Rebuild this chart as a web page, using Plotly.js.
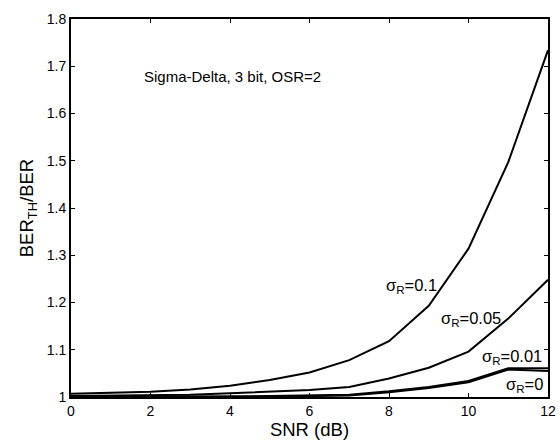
<!DOCTYPE html>
<html>
<head>
<meta charset="utf-8">
<script src="https://cdn.plot.ly/plotly-3.0.1.min.js"></script>
<style>html,body{margin:0;padding:0;background:#fff;}#chart{width:560px;height:440px;}</style>
</head>
<body>
<div id="chart"></div>
<script>
const snr = [0,1,2,3,4,5,6,7,8,9,10,11,12];
const sigma01  = [1.007,1.009,1.011,1.016,1.024,1.036,1.052,1.078,1.118,1.193,1.314,1.497,1.734];
const sigma005 = [1.002,1.003,1.004,1.005,1.008,1.011,1.015,1.021,1.039,1.062,1.096,1.166,1.248];
const sigma001 = [1.000,1.000,1.000,1.001,1.001,1.002,1.003,1.005,1.012,1.021,1.034,1.061,1.061];
const sigma0   = [1.000,1.000,1.000,1.000,1.001,1.001,1.002,1.003,1.010,1.019,1.031,1.058,1.055];
const labels = ['σ<sub>R</sub>=0.1','σ<sub>R</sub>=0.05','σ<sub>R</sub>=0.01','σ<sub>R</sub>=0'];
const labelPos = [[8.56,1.234],[10.06,1.166],[11.1,1.084],[11.4,1.026]];

const FONT = 'Liberation Sans, Arial, sans-serif';
const line = {color:'#000', width:2};
const traces = [sigma01, sigma005, sigma001, sigma0].map(v => ({
  x: snr, y: v, type:'scatter', mode:'lines', line: line, showlegend:false, hoverinfo:'skip'
}));

const annotations = labels.map((t,i) => ({
  x: labelPos[i][0], y: labelPos[i][1], xref:'x', yref:'y', text: t, showarrow:false,
  font:{family:FONT, size:16.5, color:'#000'}
}));
annotations.push({
  x: 1.78, y: 1.679, xref:'x', yref:'y', xanchor:'left', text:'Sigma-Delta, 3 bit, OSR=2', showarrow:false,
  font:{family:FONT, size:15, color:'#000'}
});

const axisCommon = {
  showgrid:false, zeroline:false, showline:true, linecolor:'#000', linewidth:2,
  mirror:'ticks', ticks:'inside', ticklen:4, tickcolor:'#000', tickwidth:1,
  tickfont:{family:FONT, size:14, color:'#000'}
};

const layout = {
  width:560, height:440,
  margin:{l:71, r:12, t:19, b:43},
  paper_bgcolor:'#fff', plot_bgcolor:'#fff',
  font:{family:FONT, color:'#000'},
  xaxis: Object.assign({}, axisCommon, {
    range:[0,12], tickmode:'array', tickvals:[0,2,4,6,8,10,12],
    title:{text:'SNR (dB)', font:{family:FONT, size:18.5, color:'#000'}, standoff:3}
  }),
  yaxis: Object.assign({}, axisCommon, {
    range:[1,1.8], tickmode:'array', tickvals:[1,1.1,1.2,1.3,1.4,1.5,1.6,1.7,1.8],
    ticktext:['1','1.1','1.2','1.3','1.4','1.5','1.6','1.7','1.8'],
    title:{text:'BER<sub>TH</sub>/BER', font:{family:FONT, size:18.5, color:'#000'}, standoff:8}
  }),
  annotations: annotations
};

Plotly.newPlot('chart', traces, layout, {displayModeBar:false, staticPlot:true});
</script>
</body>
</html>
